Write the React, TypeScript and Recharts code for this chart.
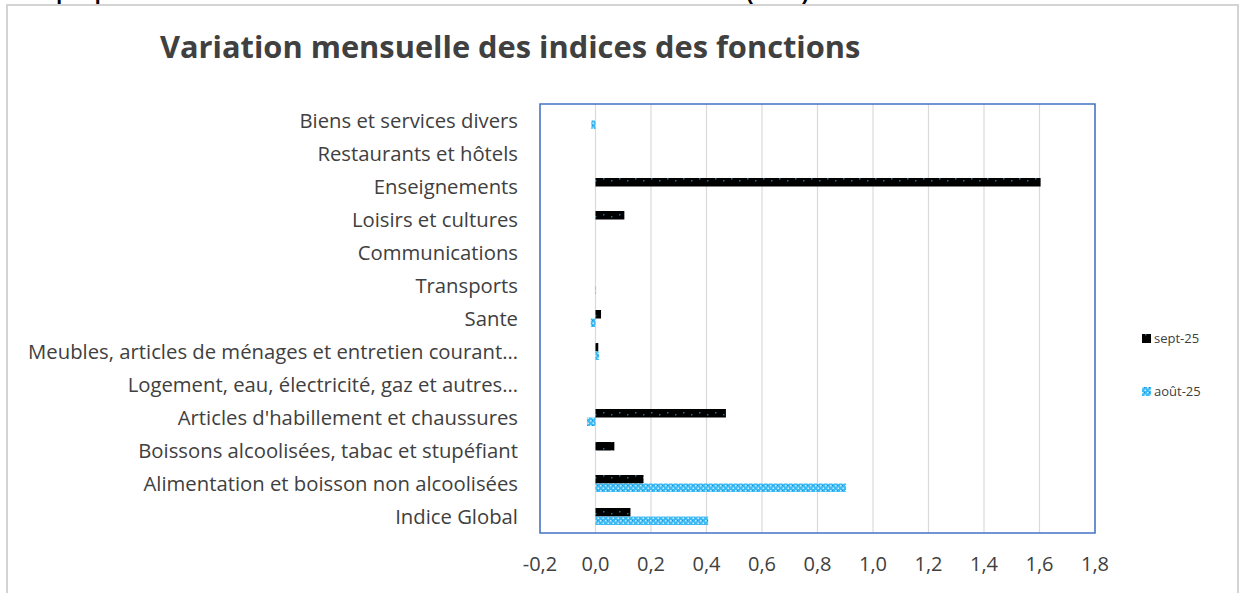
import { BarChart, Bar, XAxis, YAxis, CartesianGrid, ReferenceArea } from "recharts"

const categories = [
  "Biens et services divers",
  "Restaurants et hôtels",
  "Enseignements",
  "Loisirs et cultures",
  "Communications",
  "Transports",
  "Sante",
  "Meubles, articles de ménages et entretien courant…",
  "Logement, eau, électricité, gaz et autres…",
  "Articles d'habillement et chaussures",
  "Boissons alcoolisées, tabac et stupéfiant",
  "Alimentation et boisson non alcoolisées",
  "Indice Global",
]
const sept25 = [0, 0, 1.604, 0.104, 0, 0, 0.02, 0.01, 0, 0.47, 0.068, 0.173, 0.126]
const aout25 = [-0.015, 0, 0, 0, 0, 0.002, -0.017, 0.013, 0, -0.03, 0, 0.903, 0.406]
const xTicks = [-0.2, 0, 0.2, 0.4, 0.6, 0.8, 1.0, 1.2, 1.4, 1.6, 1.8]
const seriesNames = ["sept-25", "août-25"]

const data = categories.map((name, i) => ({ name, sept: sept25[i], aout: aout25[i] }))

const FONT = "'Open Sans', sans-serif"
const TEXT = "#404040"

const fmt = (v: number) => v.toFixed(1).replace(".", ",")

export default function App() {
  return (
    <div style={{ position: "fixed", left: 0, top: 0, width: 1240, height: 593, overflow: "hidden", background: "#fff" }}>
      <div style={{ position: "absolute", left: 0, top: 0 }}>
        <BarChart
          width={1240}
          height={593}
          data={data}
          layout="vertical"
          margin={{ top: 104, right: 145, left: 10, bottom: 30 }}
          barGap={0}
          barSize={8.5}
        >
          <defs>
            <pattern id="septPat" width={16} height={9} patternUnits="userSpaceOnUse">
              <rect width={16} height={9} fill="#000" />
              <rect x={3} y={0} width={1.5} height={1.5} fill="#1f6f9a" />
              <rect x={11} y={7} width={1.5} height={1.5} fill="#1f6f9a" />
            </pattern>
            <pattern id="aoutPat" width={5} height={5} patternUnits="userSpaceOnUse">
              <rect width={5} height={5} fill="#3fbaf3" />
              <rect x={0} y={0} width={1.5} height={1.5} fill="#cdeefc" />
              <rect x={2.5} y={2.5} width={1.5} height={1.5} fill="#cdeefc" />
              <rect x={2} y={0} width={1} height={1} fill="#1593d8" />
            </pattern>
          </defs>
          <CartesianGrid horizontal={false} stroke="#dadada" strokeWidth={1.2} />
          <XAxis
            type="number"
            domain={[-0.2, 1.8]}
            ticks={xTicks}
            tickFormatter={fmt}
            axisLine={false}
            tickLine={false}
            interval={0}
            height={30}
            tickMargin={18}
            tick={{ fontFamily: FONT, fontSize: 20, fill: TEXT }}
          />
          <YAxis
            type="category"
            dataKey="name"
            width={530}
            axisLine={false}
            tickLine={false}
            tickSize={0}
            tickMargin={22}
            interval={0}
            tick={{ fontFamily: FONT, fontSize: 20.3, fill: TEXT }}
          />
          <ReferenceArea x1={-0.2} x2={1.8} fill="none" fillOpacity={0} stroke="#4472c4" strokeWidth={1.5} ifOverflow="visible" />
          <Bar dataKey="sept" name={seriesNames[0]} fill="url(#septPat)" isAnimationActive={false} />
          <Bar dataKey="aout" name={seriesNames[1]} fill="url(#aoutPat)" isAnimationActive={false} />
        </BarChart>
      </div>
      <div style={{ position: "absolute", left: 160, top: 25, fontFamily: FONT, fontWeight: 700, fontSize: 30.8, color: TEXT, whiteSpace: "nowrap" }}>
        Variation mensuelle des indices des fonctions
      </div>
      <div style={{ position: "absolute", left: 1142, top: 328, fontFamily: FONT, fontSize: 13, color: TEXT }}>
        {seriesNames.map((s, i) => (
          <div key={s} style={{ display: "flex", alignItems: "center", height: 20, marginBottom: i === 0 ? 33 : 0 }}>
            <svg width={9} height={9} style={{ marginRight: 3 }}>
              <rect width={9} height={9} fill={i === 0 ? "url(#septPat)" : "url(#aoutPat)"} />
            </svg>
            {s}
          </div>
        ))}
      </div>
      <div style={{ position: "absolute", left: 20, top: -18, fontFamily: "'Liberation Sans', sans-serif", fontWeight: 700, fontSize: 21, lineHeight: 1, color: "#000", whiteSpace: "nowrap", zIndex: 5 }}>
        Graphique 2 :
      </div>
      <div style={{ position: "absolute", left: 746, top: -18, fontFamily: "'Liberation Sans', sans-serif", fontWeight: 700, fontSize: 21, lineHeight: 1, color: "#000", whiteSpace: "nowrap", zIndex: 5 }}>
        (en %)
      </div>
      <div style={{ position: "absolute", left: 6, top: 4, width: 1233, height: 620, border: "2px solid #d4d4d4", boxSizing: "border-box", zIndex: 10, pointerEvents: "none" }} />
    </div>
  )
}
